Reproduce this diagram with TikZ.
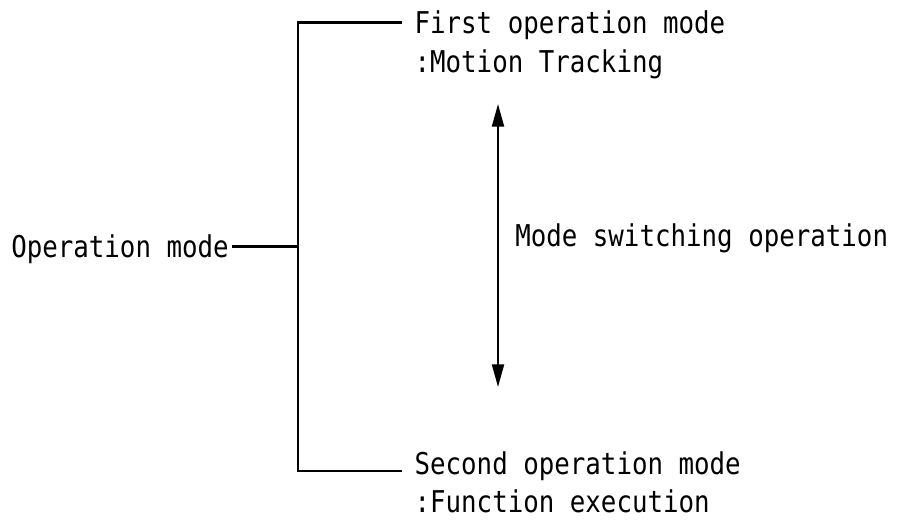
\documentclass[tikz,border=0pt]{standalone}
\usepackage{fontspec}
\usetikzlibrary{arrows.meta}
\newfontfamily\labelfont[FakeStretch=0.86]{DejaVu Sans Mono}
\begin{document}
\begin{tikzpicture}[x=0.75pt,y=-0.75pt,
  lbl/.style={font=\labelfont\fontsize{22.5}{27}\selectfont,
    inner xsep=10pt, inner ysep=0pt, text height=16.4pt, text depth=0pt, anchor=west},
  wire/.style={line width=1.6pt, line cap=rect},
  twoway/.style={line width=1.6pt, {Triangle[length=17pt,width=9pt]}-{Triangle[length=17pt,width=9pt]}}]
  \useasboundingbox (0,0) rectangle (898,522);

  % root label and the bracket
  \node[lbl, anchor=east, inner xsep=3pt] (root) at (233,246.5) {Operation mode};
  \coordinate (jn) at (298,246.5);

  \node[lbl] (m1a) at (401,22.5) {First operation mode};
  \node[lbl] (m1b) at (401,61.5) {:Motion Tracking};
  \node[lbl] (m2a) at (401,464) {Second operation mode};
  \node[lbl] (m2b) at (401,501.5) {:Function execution};

  \draw[wire] (root.east) -- (jn);
  \draw[wire] (m1a.west) -| (jn) |- ([yshift=-5.25pt]m2a.west);

  % switching arrow between the two modes
  \coordinate (up) at (498,104);
  \coordinate (dn) at (498,387);
  \draw[twoway] (up) -- (dn);
  \node[lbl, inner xsep=6pt] (sw) at (507,236) {Mode switching operation};
\end{tikzpicture}
\end{document}
